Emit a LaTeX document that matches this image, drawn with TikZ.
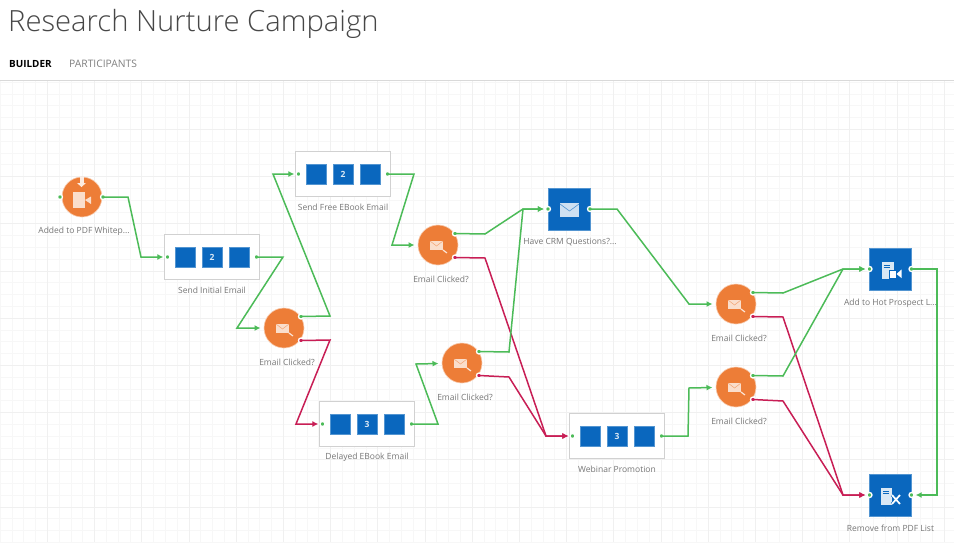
\documentclass[tikz,border=0pt]{standalone}
\usepackage{fontspec}
\setmainfont{Open Sans}
\newfontfamily\titlefont{Open Sans Light}
\usetikzlibrary{arrows.meta,positioning,calc}

\definecolor{boxblue}{RGB}{10,103,190}
\definecolor{mailorange}{RGB}{237,125,55}
\definecolor{linkgreen}{RGB}{76,187,88}
\definecolor{linkred}{RGB}{200,30,85}
\definecolor{capgray}{RGB}{118,118,118}

\tikzset{
  minorline/.style={draw=black!3,line width=0.5pt},
  majorline/.style={draw=black!6,line width=0.6pt},
  golink/.style={draw=linkgreen,line width=1.5pt,line join=miter,shorten <=-2pt,shorten >=1pt,-{Latex[length=6pt,width=6pt]}},
  nolink/.style={draw=linkred,line width=1.5pt,line join=miter,shorten <=-2pt,shorten >=1pt,-{Latex[length=6pt,width=6pt]}},
  godot/.style={circle,fill=linkgreen,draw=white,line width=1.3pt,inner sep=0pt,minimum size=5pt},
  nodot/.style={circle,fill=linkred,draw=white,line width=1.3pt,inner sep=0pt,minimum size=5pt},
  mailnode/.style={circle,fill=mailorange,draw=mailorange!40,line width=0.6pt,minimum size=40pt,inner sep=0pt,outer sep=2.5pt},
  tasknode/.style={rectangle,fill=boxblue,draw=boxblue!70,line width=0.4pt,minimum size=42pt,inner sep=0pt},
  waitnode/.style={rectangle,fill=white,draw=black!18,line width=1pt,minimum width=95pt,minimum height=45pt,inner sep=0pt},
  waitcell/.style={rectangle,fill=boxblue,draw=boxblue!70,line width=0.4pt,minimum size=20pt,inner sep=0pt,text=white!85!boxblue,font=\bfseries\fontsize{8.5}{10}\selectfont},
  stepcap/.style={text=capgray,font=\fontsize{8.5}{10}\selectfont,inner sep=0pt},
}

% small envelope with a lens, inside an orange question
\newcommand{\mailicon}[1]{
  \fill[white,opacity=0.75] ($(#1)+(-8,-4)$) rectangle ($(#1)+(5,5)$);
  \draw[mailorange!70,line width=0.5pt] ($(#1)+(-8,-4)$) -- ($(#1)+(-1.5,1)$) -- ($(#1)+(5,-4)$);
  \draw[white,opacity=0.8,line width=1.2pt] ($(#1)+(5,5)$) -- ($(#1)+(9,8)$);
}
% page with a camera; second argument is the colour behind it
\newcommand{\docicon}[2]{
  \fill[white,opacity=0.85] ($(#1)+(-9,-7)$) rectangle ($(#1)+(3,10)$);
  \draw[#2,line width=0.7pt] ($(#1)+(-7,-4)$) -- ($(#1)+(-1,-4)$) ($(#1)+(-7,-1.5)$) -- ($(#1)+(-1,-1.5)$);
  \fill[white,draw=#2,line width=0.4pt] ($(#1)+(-1,1)$) rectangle ($(#1)+(6,9)$);
  \fill[white] ($(#1)+(6,5)$) -- ($(#1)+(11,0.5)$) -- ($(#1)+(11,9)$) -- cycle;
}
% one wait box, with its three cells, ports and caption
\newcommand{\waitstep}[5]{
  \node[waitnode] (#1) at (#2,#3) {};
  \node[waitcell] (#1-a) at ($(#1)+(-27,0)$) {};
  \node[waitcell] (#1-b) at (#1) {#4};
  \node[waitcell] (#1-c) at ($(#1)+(27.5,0)$) {};
  \node[godot] (#1-in) at ($(#1)+(-44.5,0)$) {};
  \node[godot] (#1-out) at ($(#1)+(44.5,0)$) {};
  \node[stepcap] (#1-cap) at ($(#1)+(0,33)$) {#5};
}
% one orange question, with its ports and caption
\newcommand{\clickstep}[3]{
  \node[mailnode] (#1) at (#2,#3) {};
  \node[godot] (#1-yes) at ($(#1)+(17,-11.5)$) {};
  \node[nodot] (#1-no) at ($(#1)+(17,12.5)$) {};
  \node[stepcap] (#1-cap) at ($(#1)+(3,34.5)$) {Email Clicked?};
  \mailicon{#1}
}

\begin{document}
\begin{tikzpicture}[x=1pt,y=-1pt]
  \useasboundingbox (0,0) rectangle (954,542);
  \fill[white] (0,0) rectangle (954,542);

  % page head
  \node[anchor=base west,inner sep=0pt,text=black!72,font=\titlefont\fontsize{29.2}{34}\selectfont] (title) at (8,31) {Research Nurture Campaign};
  \node[anchor=base west,inner sep=0pt,text=black,font=\bfseries\fontsize{9.9}{11}\selectfont] (builder) at (9,67) {BUILDER};
  \node[anchor=base west,inner sep=0pt,text=black!50,font=\fontsize{10.3}{11}\selectfont] (participants) at (69,67) {PARTICIPANTS};
  \draw[black!15] (0,80) -- (954,80);

  % canvas grid
  \foreach \n in {0,...,80}
    \draw[minorline] ({11.8*\n},81) -- ({11.8*\n},542);
  \foreach \n in {0,...,39}
    \draw[minorline] (0,{82+11.8*\n}) -- (954,{82+11.8*\n});
  \foreach \n in {1,...,20}
    \draw[majorline] ({47.2*\n},81) -- ({47.2*\n},542);
  \foreach \n in {1,...,9}
    \draw[majorline] (0,{82+47.2*\n}) -- (954,{82+47.2*\n});

  % steps
  \node[mailnode] (added) at (82,197) {};
  \node[godot] (added-in) at (60,197) {};
  \node[godot] (added-out) at (103,197) {};
  \node[stepcap] (added-cap) at (84,231) {Added to PDF Whitep...};
  \fill[white,opacity=0.85] (79.5,177) rectangle (83.5,183);
  \fill[white,opacity=0.85] (77,183) -- (86,183) -- (81.5,187) -- cycle;
  \fill[white,opacity=0.75] (73,192) rectangle (85,208);
  \fill[white,opacity=0.75] (85,200) -- (91,196.5) -- (91,204) -- cycle;

  \waitstep{initial}{212}{257}{2}{Send Initial Email}
  \waitstep{free}{343}{174}{2}{Send Free EBook Email}
  \waitstep{delayed}{367}{424}{3}{Delayed EBook Email}
  \waitstep{webinar}{617}{436}{3}{Webinar Promotion}

  \clickstep{clickA}{284}{328}
  \clickstep{clickB}{438}{245}
  \clickstep{clickC}{462}{363}
  \clickstep{clickD}{736}{304}
  \clickstep{clickE}{736}{387}

  \node[tasknode] (crm) at (569,209) {};
  \node[godot] (crm-in) at (548,209) {};
  \node[godot] (crm-out) at (590,209) {};
  \node[stepcap] (crm-cap) at (570,242) {Have CRM Questions?...};
  \fill[white,opacity=0.8] (560,203) rectangle (579,217);
  \draw[boxblue!70,line width=0.6pt] (560,204) -- (569.5,211) -- (579,204);

  \node[tasknode] (hot) at (890.5,269) {};
  \node[godot] (hot-in) at (869.5,269) {};
  \node[godot] (hot-out) at (911.5,269) {};
  \node[stepcap] (hot-cap) at (890.5,303) {Add to Hot Prospect L...};
  \docicon{hot}{boxblue}

  \node[tasknode] (remove) at (890.5,495) {};
  \node[godot] (remove-in) at (869.5,495) {};
  \node[godot] (remove-out) at (911.5,495) {};
  \node[stepcap] (remove-cap) at (890.5,528) {Remove from PDF List};
  \fill[white,opacity=0.85] (881,488) rectangle (892,505);
  \draw[boxblue,line width=0.7pt] (883,491) -- (889,491) (883,493.5) -- (889,493.5);
  \draw[boxblue,line width=3pt] (892,495) -- (900,504) (900,495) -- (892,504);
  \draw[white,line width=1.7pt] (892,495) -- (900,504) (900,495) -- (892,504);

  % links
  \draw[golink] (added-out) -- (128,197) -- (141,257) -- (initial-in);
  \draw[golink] (initial-out) -- (283,257) -- (237,328) -- (clickA);
  \draw[golink] (clickA-yes) -- (330,316) -- (273,174) -- (free-in);
  \draw[nolink] (clickA-no) -- (330,340) -- (296,424) -- (delayed-in);
  \draw[golink] (free-out) -- (414,174) -- (392,245) -- (clickB);
  \draw[golink] (clickB-yes) -- (485,234) -- (523,209) -- (crm-in);
  \draw[nolink] (clickB-no) -- (485,258) -- (546,436) -- (webinar-in);
  \draw[golink] (delayed-out) -- (438,424) -- (416,364) -- (clickC);
  \draw[golink] (clickC-yes) -- (509,352) -- (523,209) -- (crm-in);
  \draw[nolink] (clickC-no) -- (509,377) -- (546,436) -- (webinar-in);
  \draw[golink] (crm-out) -- (617,209) -- (689,304) -- (clickD);
  \draw[golink] (webinar-out) -- (688,436) -- (689,388) -- (clickE);
  \draw[golink] (clickD-yes) -- (783,293) -- (843,269) -- (hot-in);
  \draw[nolink] (clickD-no) -- (783,317) -- (843,495) -- (remove-in);
  \draw[golink] (clickE-yes) -- (783,376) -- (843,269) -- (hot-in);
  \draw[nolink] (clickE-no) -- (783,401) -- (843,495) -- (remove-in);
  \draw[golink] (hot-out) -- (937,269) -- (937,495) -- (remove-out);
\end{tikzpicture}
\end{document}
